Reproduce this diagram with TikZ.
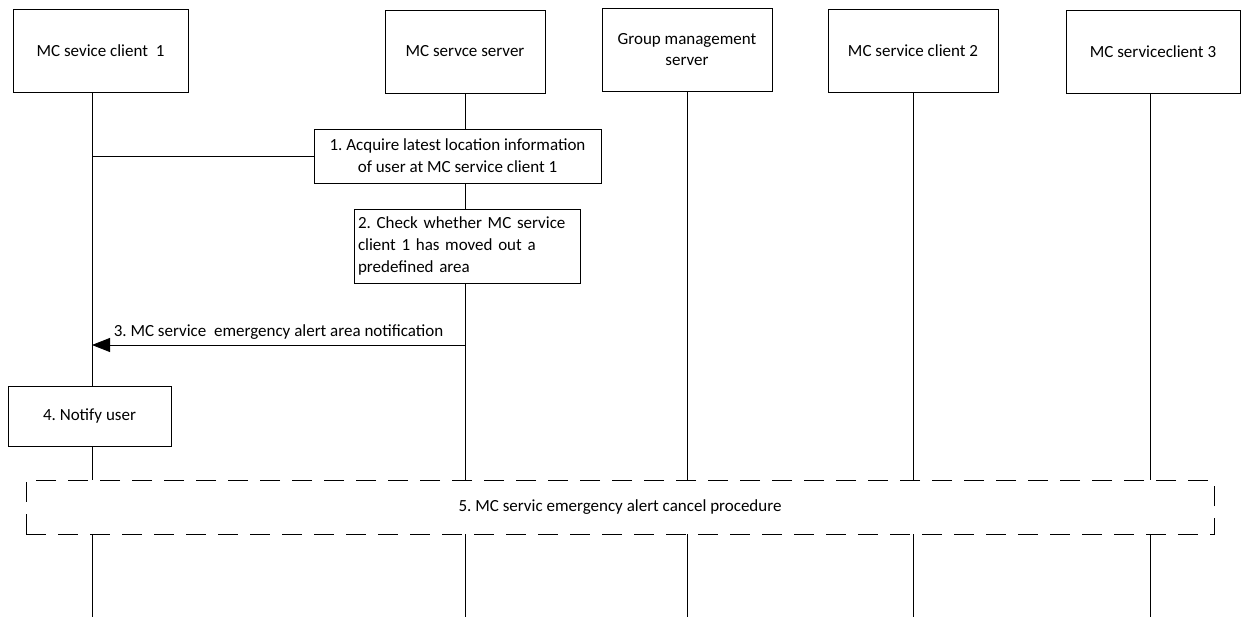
\documentclass[tikz,border=0pt]{standalone}
\usepackage{fontspec}
\setmainfont{Carlito}
\usetikzlibrary{arrows.meta,positioning}
\frenchspacing

\begin{document}
\begin{tikzpicture}[
    x=1pt, y=-1pt,
    ent/.style={draw, fill=white, line width=0.8pt, minimum height=83pt, font=\fontsize{17}{21}\selectfont, align=center, inner sep=2pt},
    stepbox/.style={draw, fill=white, line width=0.8pt, font=\fontsize{17}{22}\selectfont, align=center, inner sep=2pt},
    procbox/.style={stepbox, dash pattern=on 20pt off 12pt},
    life/.style={line width=0.8pt},
    msg/.style={-{Triangle[length=18pt,width=14pt]}, line width=0.8pt},
    lbl/.style={font=\fontsize{17}{21}\selectfont, inner sep=1pt}
]
\useasboundingbox (0,0) rectangle (1242,617);

% --- Lifeline ends (bottom of the page) ---
\coordinate (c1end) at (92,617);
\coordinate (srvend) at (465,617);
\coordinate (gmend) at (687,617);
\coordinate (c2end) at (913,617);
\coordinate (c3end) at (1150,617);

% Row 0: entities
\node[ent, minimum width=175pt] (c1)  at (100.5,50.5) {MC sevice client\ \ 1};
\node[ent, minimum width=160pt] (srv) at (465,51.5)  {MC servce server};
\node[ent, minimum width=170pt] (gm)  at (687,49.5)  {Group management\\server};
\node[ent, minimum width=170pt] (c2)  at (913,51)    {MC service client 2};
\node[ent, minimum width=174pt] (c3)  at (1153,51.5) {MC serviceclient 3};

% Lifelines
\draw[life] (c1end |- c1.south) -- (c1end);
\draw[life] (srv.south) -- (srvend);
\draw[life] (gm.south) -- (gmend);
\draw[life] (c2.south) -- (c2end);
\draw[life] (c3end |- c3.south) -- (c3end);

% Step 1
\node[stepbox, minimum width=287pt, minimum height=54pt] (s1) at (457.5,156)
    {1. Acquire latest location information\\of user at MC service client 1};
\draw[life] (c1end |- s1.west) -- (s1.west);

% Step 2
\node[stepbox, minimum width=226pt, minimum height=74pt, align=left, text width=218pt] (s2) at (467,246)
    {2. Check whether MC service\\client 1 has moved out a\\predefined area};

% Step 3
\coordinate (m3) at (465,345);
\draw[msg] (m3) -- node[lbl, above=4pt, pos=0.5] {3. MC service\ \ emergency alert area notification} (c1end |- m3);

% Step 4
\node[stepbox, minimum width=163pt, minimum height=60pt] (s4) at (89.5,416) {4. Notify user};

% Step 5
\node[procbox, minimum width=1188pt, minimum height=54pt] (s5) at (620,507)
    {5. MC servic emergency alert cancel procedure};

\end{tikzpicture}
\end{document}
